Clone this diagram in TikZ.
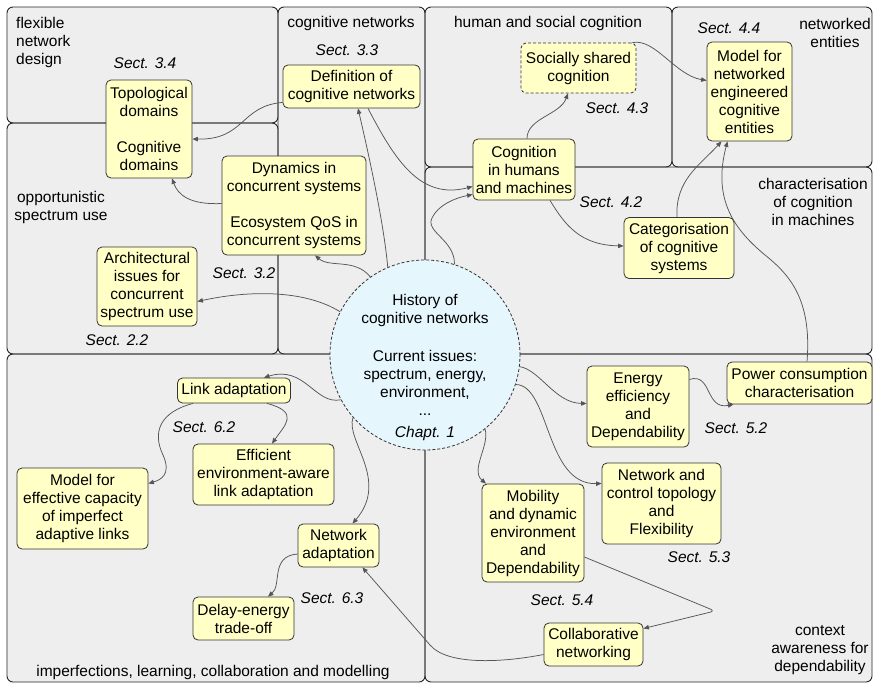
\documentclass[tikz,border=0pt]{standalone}
\usepackage{fontspec}
\setmainfont{Liberation Sans}
\usetikzlibrary{arrows.meta,calc}

\definecolor{regionfill}{HTML}{EEEEEE}
\definecolor{regionline}{HTML}{262626}
\definecolor{boxfill}{HTML}{FFFFC6}
\definecolor{boxline}{HTML}{333333}
\definecolor{hubfill}{HTML}{E6F6FD}
\definecolor{connline}{HTML}{555555}
\newcommand{\lbl}{\fontsize{15.5}{18}\selectfont}

\tikzset{
  regionfillstyle/.style={fill=regionfill, rounded corners=6pt},
  regionline/.style={draw=regionline, line width=0.9pt, rounded corners=6pt},
  topic/.style={draw=boxline, fill=boxfill, line width=0.8pt, rounded corners=5pt,
                align=center, inner sep=1pt, font=\lbl},
  sect/.style={font=\lbl\itshape, inner sep=0pt},
  area/.style={font=\lbl, align=center, inner sep=0pt},
  conn/.style={draw=connline, line width=0.75pt, -{Triangle[length=5.5pt,width=4.5pt]}},
}

\begin{document}
\begin{tikzpicture}[x=1pt,y=-1pt]
\useasboundingbox (0,0) rectangle (873,683);
\fill[white] (0,0) rectangle (873,683);

% topic areas: fills first, then outlines
\foreach \a/\b/\c/\d in {7/7/278/123, 7/123/278/354, 278/7/425/354, 425/7/672/167,
                         672/7/872/167, 425/167/872/354, 7/354/425/682, 425/354/872/682}
  \fill[regionfillstyle] (\a,\b) rectangle (\c,\d);
\foreach \a/\b/\c/\d in {7/7/278/123, 7/123/278/354, 278/7/425/354, 425/7/672/167,
                         672/7/872/167, 425/167/872/354, 7/354/425/682, 425/354/872/682}
  \draw[regionline] (\a,\b) rectangle (\c,\d);

% area titles
\node[area, anchor=west, align=left] (tflex) at (16,42) {flexible\\network\\design};
\node[area] (tcog) at (351,23) {cognitive networks};
\node[area] (thum) at (548,23) {human and social cognition};
\node[area] (tnet) at (835,33) {networked\\entities};
\node[area] (topp) at (61,207) {opportunistic\\spectrum use};
\node[area] (tchar) at (813,202) {characterisation\\of cognition\\in machines};
\node[area] (timp) at (213,672) {imperfections, learning, collaboration and modelling};
\node[area] (tctx) at (820,650) {context\\awareness for\\dependability};

% central chapter
\node[circle, draw=boxline, fill=hubfill, line width=0.8pt, dash pattern=on 3pt off 2pt,
      minimum size=190pt, inner sep=0pt] (hub) at (425,355) {};
\node[area] (hubtext) at (425,367) {History of\\cognitive networks\\[20pt]Current issues:\\spectrum, energy,\\environment,\\...\\[4pt]\textit{Chapt. 1}};

% topics
\node[topic, minimum width=86pt, minimum height=98pt] (topo) at (149,129) {Topological\\domains\\[18pt]Cognitive\\domains};
\node[topic, minimum width=137pt, minimum height=43pt] (defn) at (351.5,86.5) {Definition of\\cognitive networks};
\node[topic, minimum width=144pt, minimum height=99pt] (dyn) at (294,205.5) {Dynamics in\\concurrent systems\\[18pt]Ecosystem QoS in\\concurrent systems};
\node[topic, minimum width=100pt, minimum height=79pt] (arch) at (147,286.5) {Architectural\\issues for\\concurrent\\spectrum use};
\node[topic, dash pattern=on 3pt off 2pt, minimum width=115pt, minimum height=50pt] (social) at (578.5,68) {Socially shared\\cognition};
\node[topic, minimum width=85pt, minimum height=99pt] (model) at (749.5,91.5) {Model for\\networked\\engineered\\cognitive\\entities};
\node[topic, minimum width=102pt, minimum height=61pt] (cogn) at (524,169.5) {Cognition\\in humans\\and machines};
\node[topic, minimum width=110pt, minimum height=61pt] (categ) at (679,248) {Categorisation\\of cognitive\\systems};
\node[topic, minimum width=113pt, minimum height=25pt] (link) at (234,390.5) {Link adaptation};
\node[topic, minimum width=141pt, minimum height=61pt] (effic) at (263.5,474.5) {Efficient\\environment-aware\\link adaptation};
\node[topic, minimum width=131pt, minimum height=81pt] (modeleff) at (82.5,508.5) {Model for\\effective capacity\\of imperfect\\adaptive links};
\node[topic, minimum width=81pt, minimum height=43pt] (netad) at (338.5,545.5) {Network\\adaptation};
\node[topic, minimum width=101pt, minimum height=43pt] (delay) at (243.5,618.5) {Delay-energy\\trade-off};
\node[topic, minimum width=102pt, minimum height=81pt] (energy) at (638,406.5) {Energy\\efficiency\\and\\Dependability};
\node[topic, minimum width=145pt, minimum height=42pt] (power) at (799.5,383) {Power consumption\\characterisation};
\node[topic, minimum width=119pt, minimum height=81pt] (netctl) at (661.5,503.5) {Network and\\control topology\\and\\Flexibility};
\node[topic, minimum width=102pt, minimum height=98pt] (mobil) at (533,533) {Mobility\\and dynamic\\environment\\and\\Dependability};
\node[topic, minimum width=99pt, minimum height=43pt] (collab) at (593.5,644.5) {Collaborative\\networking};

% section labels
\node[sect] (s34) at (145,63) {Sect. 3.4};
\node[sect] (s33) at (347,50) {Sect. 3.3};
\node[sect] (s32) at (244,273) {Sect. 3.2};
\node[sect] (s22) at (117,340) {Sect. 2.2};
\node[sect] (s43) at (617,108) {Sect. 4.3};
\node[sect] (s44) at (729,28) {Sect. 4.4};
\node[sect] (s42) at (611,202) {Sect. 4.2};
\node[sect] (s62) at (204,427) {Sect. 6.2};
\node[sect] (s63) at (332,598) {Sect. 6.3};
\node[sect] (s52) at (736,428) {Sect. 5.2};
\node[sect] (s53) at (699,557) {Sect. 5.3};
\node[sect] (s54) at (562,600) {Sect. 5.4};

% connectors
\draw[conn] ([shift={(0,-6)}]defn.south west) .. controls (240,106) and (245,140) .. ([shift={(0,10)}]topo.east);
\draw[conn] ([shift={(0,-2)}]dyn.west) .. controls (190,205) and (178,195) .. ([shift={(23,0)}]topo.south);
\draw[conn] (hub.113) .. controls (384,225) and (370,160) .. ([shift={(6.5,0)}]defn.south);
\draw[conn] ([shift={(16.5,0)}]defn.south) .. controls (395,160) and (420,200) .. ([shift={(0,17)}]cogn.west);
\draw[conn] (hub.125) .. controls (355,258) and (330,268) .. ([shift={(21,0)}]dyn.south);
\draw[conn] (hub.153) .. controls (305,290) and (250,290) .. ([shift={(0,15)}]arch.east);
\draw[conn] (hub.72) .. controls (455,240) and (425,232) .. (432,218) .. controls (438,205) and (455,198) .. ([shift={(0,25)}]cogn.west);
\draw[conn] ([shift={(3,0)}]cogn.north) .. controls (527,118) and (560,115) .. ([shift={(-10.5,0)}]social.south);
\draw[conn] ([shift={(-4,0)}]social.north east) .. controls (655,38) and (675,75) .. ([shift={(0,-11)}]model.west);
\draw[conn] ([shift={(26,0)}]cogn.south) .. controls (565,225) and (580,245) .. ([shift={(0,-2)}]categ.west);
\draw[conn] ([shift={(-2,0)}]categ.north) .. controls (675,180) and (700,165) .. ([shift={(-28,0)}]model.south);
\draw[conn] ([shift={(7.5,0)}]power.north) .. controls (812,300) and (790,275) .. (765,255) .. controls (735,230) and (712,200) .. ([shift={(-22,0)}]model.south);
\draw[conn] (hub.-7) .. controls (540,370) and (555,403) .. ([shift={(0,-3)}]energy.west);
\draw[conn] (hub.-18) .. controls (550,385) and (545,485) .. ([shift={(0,-20)}]netctl.west);
\draw[conn] (hub.-51) .. controls (490,445) and (470,470) .. ([shift={(-47,0)}]mobil.north);
\draw[conn] ([shift={(0,-27)}]energy.east) .. controls (712,372) and (705,410) .. ([shift={(-66,0)}]power.south);
\coordinate (turn) at (715,611);
\draw[conn, rounded corners=5pt] ([shift={(0,24)}]mobil.east) -- (turn) -- ([shift={(0,-16)}]collab.east);
\draw[conn] ([shift={(0,10)}]collab.west) .. controls (500,663) and (447,665) .. (430,645) -- ([shift={(-17,0)}]netad.south east);
\draw[conn] (hub.208) .. controls (315,405) and (305,365) .. ([shift={(30,0)}]link.north);
\draw[conn] (hub.221) .. controls (345,440) and (390,480) .. ([shift={(14,0)}]netad.north);
\draw[conn] ([shift={(16,0)}]link.south west) .. controls (160,412) and (152,432) .. (163,455) .. controls (172,475) and (160,480) .. ([shift={(0,-25)}]modeleff.east);
\draw[conn] ([shift={(33,0)}]link.south) .. controls (300,412) and (285,425) .. ([shift={(8.5,0)}]effic.north);
\draw[conn] ([shift={(0,8.5)}]netad.west) .. controls (270,556) and (282,585) .. ([shift={(24.5,0)}]delay.north);
\end{tikzpicture}
\end{document}
